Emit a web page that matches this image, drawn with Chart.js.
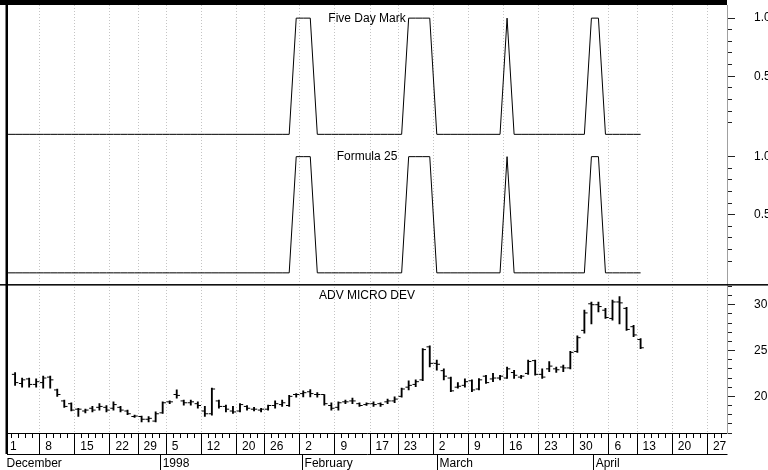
<!DOCTYPE html>
<html>
<head>
<meta charset="utf-8">
<script src="https://cdn.jsdelivr.net/npm/chart.js@4.4.1/dist/chart.umd.min.js"></script>
<style>
  html, body { margin: 0; padding: 0; background: #fff; }
  canvas { display: block; }
</style>
</head>
<body>
<canvas id="chart" width="768" height="470"></canvas>
<script>
// x is the trading day index, day 0 = Dec 1 1997
const weekTickDays = [0, 5, 10, 15, 19, 23, 28, 33, 37, 42, 47, 52, 56, 61, 66, 71, 76, 81, 86, 90, 95, 100];
const weekTickLabels = ['1', '8', '15', '22', '29', '5', '12', '20', '26', '2', '9', '17', '23', '2', '9', '16', '23', '30', '6', '13', '20', '27'];
const monthTickDays = [0, 22, 42, 61, 83];
const monthTickLabels = ['December', '1998', 'February', 'March', 'April'];
const lastAxisDay = 101;

const panelTitles = ['Five Day Mark', 'Formula 25', 'ADV MICRO DEV'];

// indicator values, day 0..90
const fiveDayMark = [
    0, 0, 0, 0, 0, 0, 0, 0, 0, 0,
    0, 0, 0, 0, 0, 0, 0, 0, 0, 0,
    0, 0, 0, 0, 0, 0, 0, 0, 0, 0,
    0, 0, 0, 0, 0, 0, 0, 0, 0, 0,
    0, 1, 1, 1, 0, 0, 0, 0, 0, 0,
    0, 0, 0, 0, 0, 0, 0, 1, 1, 1,
    1, 0, 0, 0, 0, 0, 0, 0, 0, 0,
    0, 1, 0, 0, 0, 0, 0, 0, 0, 0,
    0, 0, 0, 1, 1, 0, 0, 0, 0, 0,
    0
];
const formula25 = [
    0, 0, 0, 0, 0, 0, 0, 0, 0, 0,
    0, 0, 0, 0, 0, 0, 0, 0, 0, 0,
    0, 0, 0, 0, 0, 0, 0, 0, 0, 0,
    0, 0, 0, 0, 0, 0, 0, 0, 0, 0,
    0, 1, 1, 1, 0, 0, 0, 0, 0, 0,
    0, 0, 0, 0, 0, 0, 0, 1, 1, 1,
    1, 0, 0, 0, 0, 0, 0, 0, 0, 0,
    0, 1, 0, 0, 0, 0, 0, 0, 0, 0,
    0, 0, 0, 1, 1, 0, 0, 0, 0, 0,
    0
];

// ADV MICRO DEV daily bars, first bar on day 1
const firstBarDay = 1;
const opens = [
    22.4, 21.4, 21.9, 21.3, 21.5, 22.1, 20.7, 19.5, 19.2, 18.6,
    18.4, 18.7, 18.8, 18.8, 18.7, 18.8, 18.4, 17.8, 17.8, 17.5,
    17.3, 18.2, 19.4, 20.2, 19.5, 19.3, 19.2, 18.4, 18.1, 19.5,
    18.9, 18.4, 18.4, 18.9, 18.6, 18.5, 18.6, 19.0, 19.1, 19.0,
    20.2, 20.3, 20.5, 20.2, 20.2, 19.0, 18.8, 19.4, 19.5, 19.2,
    19.1, 19.2, 19.2, 19.4, 19.5, 20.0, 21.0, 21.3, 21.8, 25.4,
    23.6, 22.8, 22.0, 21.0, 21.2, 21.7, 20.8, 22.2, 21.9, 22.0,
    22.0, 22.6, 22.1, 22.5, 23.9, 22.4, 23.0, 23.0, 23.2, 23.1,
    24.9, 27.2, 30.1, 30.0, 29.4, 28.5, 30.3, 29.6, 27.6, 26.2
];
const highs = [
    22.6, 22.0, 22.0, 21.9, 22.2, 22.2, 20.8, 19.6, 19.3, 18.7,
    18.6, 18.9, 19.2, 19.0, 19.4, 18.9, 18.5, 17.95, 17.85, 17.8,
    18.3, 19.4, 19.5, 20.7, 19.6, 19.6, 19.4, 18.9, 20.9, 19.6,
    19.05, 18.9, 19.2, 19.0, 18.8, 18.7, 19.05, 19.5, 19.6, 20.1,
    20.3, 20.6, 20.75, 20.4, 20.2, 19.3, 19.4, 19.6, 19.8, 19.3,
    19.3, 19.4, 19.3, 19.7, 19.95, 20.9, 21.7, 21.8, 25.2, 25.5,
    23.95, 23.0, 22.1, 21.5, 21.9, 21.8, 21.95, 22.3, 22.5, 22.3,
    23.2, 22.85, 22.3, 23.95, 23.95, 23.0, 23.8, 23.2, 23.4, 24.9,
    26.6, 29.4, 30.3, 30.3, 29.6, 30.5, 30.9, 29.7, 27.75, 26.3
];
const lows = [
    21.2, 21.0, 21.0, 21.0, 20.9, 20.9, 20.0, 18.8, 18.4, 17.8,
    18.2, 18.3, 18.5, 18.3, 18.5, 18.3, 18.0, 17.7, 17.2, 17.2,
    17.2, 18.15, 19.2, 19.8, 19.05, 19.05, 18.7, 17.8, 17.95, 18.7,
    18.3, 18.15, 18.3, 18.5, 18.4, 18.3, 18.5, 18.7, 18.9, 18.9,
    19.9, 19.95, 19.95, 19.9, 19.05, 18.5, 18.5, 19.2, 19.2, 18.9,
    19.0, 18.9, 18.9, 19.2, 19.3, 19.9, 20.7, 21.05, 21.7, 23.2,
    22.85, 21.8, 20.5, 20.9, 21.0, 20.5, 20.7, 21.4, 21.6, 21.8,
    21.95, 21.95, 21.95, 22.4, 22.3, 21.95, 22.7, 22.6, 22.7, 23.0,
    24.8, 26.9, 27.9, 29.2, 28.5, 28.3, 27.9, 27.2, 26.5, 25.2
];
const closes = [
    21.5, 21.8, 21.3, 21.6, 22.0, 21.8, 20.2, 18.9, 18.5, 18.6,
    18.5, 18.5, 18.9, 18.5, 19.1, 18.5, 18.1, 17.85, 17.5, 17.6,
    18.1, 19.3, 19.4, 20.1, 19.3, 19.4, 19.0, 18.1, 20.8, 18.9,
    18.6, 18.3, 19.1, 18.7, 18.6, 18.6, 19.0, 19.2, 19.3, 20.0,
    20.2, 20.4, 20.3, 20.2, 19.2, 18.7, 19.3, 19.4, 19.5, 19.0,
    19.2, 19.1, 19.1, 19.5, 19.7, 20.8, 21.2, 21.6, 25.1, 23.6,
    23.5, 22.2, 20.6, 21.1, 21.6, 20.7, 21.8, 21.5, 22.0, 22.2,
    23.0, 22.3, 22.2, 23.8, 22.4, 22.1, 23.3, 22.9, 23.1, 24.8,
    26.4, 29.1, 30.0, 29.8, 28.6, 30.3, 30.2, 27.3, 26.7, 25.3
];

// right axis ticks
const markTicks = [0.1, 0.2, 0.3, 0.4, 0.5, 0.6, 0.7, 0.8, 0.9, 1.0];
const markLabelled = [0.5, 1.0];
const priceTicks = [16, 17, 18, 19, 20, 21, 22, 23, 24, 25, 26, 27, 28, 29, 30, 31, 32];
const priceLabelled = [20, 25, 30];

const FONT = '"Liberation Sans", Arial, sans-serif';
Chart.defaults.font.family = FONT;
Chart.defaults.font.size = 12;
Chart.defaults.color = '#000';

// open tick sits left of the bar, close tick right
const TICK_SHIFT = 0.23;

function lineData(values) {
    return values.map((v, i) => ({ x: i, y: v }));
}

function barDay(k) {
    return firstBarDay + k;
}

// fixed box sizes, no extra label padding pushed into the layout
function fixBox(width, height) {
    return function(scale) {
        if (width) scale.width = width;
        if (height) scale.height = height;
        scale.paddingTop = 0;
        scale.paddingBottom = 0;
        scale.paddingLeft = 0;
        scale.paddingRight = 0;
    };
}

function isOneOf(list, v) {
    return list.some(t => Math.abs(t - v) < 1e-6);
}

function rightAxis(ticks, labelled, fmt, min, max, weight) {
    return {
        type: 'linear',
        position: 'right',
        stack: 'panels',
        stackWeight: weight,
        min: min,
        max: max,
        afterBuildTicks: (axis) => { axis.ticks = ticks.map(v => ({ value: v })); },
        afterFit: fixBox(41, 0),
        grid: {
            drawOnChartArea: false,
            tickLength: 8,
            tickColor: '#222',
            tickWidth: 1,
            tickBorderDash: (ctx) => (ctx.tick && isOneOf(labelled, ctx.tick.value)) ? [] : [4, 40]
        },
        border: { display: true, color: '#a0a0a0', width: 1 },
        ticks: {
            autoSkip: false,
            padding: 19,
            font: { size: 12 },
            callback: (v) => isOneOf(labelled, v) ? fmt(v) : ''
        }
    };
}

const allDays = [];
for (let d = 0; d <= lastAxisDay; d++) allDays.push(d);

const panelFrame = {
    id: 'panelFrame',
    afterDraw(chart) {
        const { ctx, chartArea, scales } = chart;
        ctx.save();
        ctx.fillStyle = '#000';
        ctx.fillRect(0, 0, chartArea.right, chartArea.top);
        ctx.fillRect(chartArea.left - 1.5, 0, 2.5, scales.x.bottom);
        ctx.fillRect(0, scales.y3.top - 0.75, chart.width, 1.5);

        // labels are cut at the plot's right edge
        ctx.fillStyle = '#fff';
        ctx.fillRect(chartArea.right + 0.5, chartArea.bottom + 1, chart.width - chartArea.right, chart.height - chartArea.bottom);
        ctx.fillRect(0, scales.x2.top + 1, chartArea.left - 1.5, scales.x2.height);

        ctx.fillStyle = '#000';
        ctx.font = '12px ' + FONT;
        ctx.textAlign = 'center';
        ctx.textBaseline = 'middle';
        const cx = (chartArea.left + chartArea.right) / 2;
        ctx.fillText(panelTitles[0], cx, scales.y1.top + 13.2);
        ctx.fillText(panelTitles[1], cx, scales.y2.top + 13.2);
        ctx.fillText(panelTitles[2], cx, scales.y3.top + 10.8);
        ctx.restore();
    }
};

new Chart(document.getElementById('chart'), {
    type: 'line',
    data: {
        datasets: [
            {
                label: panelTitles[0],
                data: lineData(fiveDayMark),
                yAxisID: 'y1',
                borderColor: '#000',
                borderWidth: 1,
                pointRadius: 0,
                tension: 0
            },
            {
                label: panelTitles[1],
                data: lineData(formula25),
                yAxisID: 'y2',
                borderColor: '#000',
                borderWidth: 1,
                pointRadius: 0,
                tension: 0
            },
            {
                type: 'bar',
                label: 'range',
                data: highs.map((h, k) => ({ x: barDay(k), y: [lows[k], h] })),
                yAxisID: 'y3',
                backgroundColor: '#000',
                borderWidth: 0,
                barThickness: 1.2
            },
            {
                type: 'scatter',
                label: 'open',
                data: opens.map((v, k) => ({ x: barDay(k) - TICK_SHIFT, y: v })),
                yAxisID: 'y3',
                pointStyle: 'line',
                pointRadius: 1.6,
                pointBorderWidth: 1,
                borderColor: '#000'
            },
            {
                type: 'scatter',
                label: 'close',
                data: closes.map((v, k) => ({ x: barDay(k) + TICK_SHIFT, y: v })),
                yAxisID: 'y3',
                pointStyle: 'line',
                pointRadius: 1.6,
                pointBorderWidth: 1,
                borderColor: '#000'
            }
        ]
    },
    options: {
        responsive: false,
        animation: false,
        events: [],
        devicePixelRatio: 1,
        layout: { padding: { top: 3.5, left: 7, right: 0, bottom: 0 } },
        plugins: {
            legend: { display: false },
            tooltip: { enabled: false }
        },
        scales: {
            x: {
                type: 'linear',
                position: 'bottom',
                min: 0.352,
                max: 101.79,
                afterBuildTicks: (axis) => { axis.ticks = allDays.map(v => ({ value: v })); },
                afterFit: fixBox(0, 21),
                grid: {
                    color: (ctx) => (ctx.tick && weekTickDays.includes(ctx.tick.value)) ? '#c4c4c4' : 'rgba(0,0,0,0)',
                    lineWidth: 1,
                    tickLength: 21,
                    tickColor: '#000',
                    tickWidth: 1,
                    tickBorderDash: (ctx) => (ctx.tick && weekTickDays.includes(ctx.tick.value)) ? [] : [4, 40]
                },
                border: { display: true, color: '#000', width: 1, dash: [1, 2] },
                ticks: {
                    autoSkip: false,
                    maxRotation: 0,
                    minRotation: 0,
                    align: 'start',
                    labelOffset: 2,
                    padding: -14.2,
                    callback: (v) => {
                        const k = weekTickDays.indexOf(v);
                        return k >= 0 ? weekTickLabels[k] : '';
                    }
                }
            },
            x2: {
                type: 'linear',
                position: 'bottom',
                min: 0.352,
                max: 101.79,
                afterBuildTicks: (axis) => { axis.ticks = monthTickDays.map(v => ({ value: v })); },
                afterFit: fixBox(0, 16),
                grid: {
                    drawOnChartArea: false,
                    tickLength: 16,
                    tickColor: '#000',
                    tickWidth: 1
                },
                border: { display: true, color: '#000', width: 1 },
                ticks: {
                    autoSkip: false,
                    maxRotation: 0,
                    minRotation: 0,
                    align: 'start',
                    labelOffset: (ctx) => ctx.index === 0 ? -2.5 : 2,
                    padding: -13.7,
                    callback: (v) => {
                        const k = monthTickDays.indexOf(v);
                        return k >= 0 ? monthTickLabels[k] : '';
                    }
                }
            },
            y1: rightAxis(markTicks, markLabelled, v => v.toFixed(1), -0.079, 1.113, 139),
            y2: rightAxis(markTicks, markLabelled, v => v.toFixed(1), -0.103, 1.113, 141.8),
            y3: rightAxis(priceTicks, priceLabelled, v => String(v), 16, 32.17, 148.7)
        }
    },
    plugins: [panelFrame]
});
</script>
</body>
</html>
